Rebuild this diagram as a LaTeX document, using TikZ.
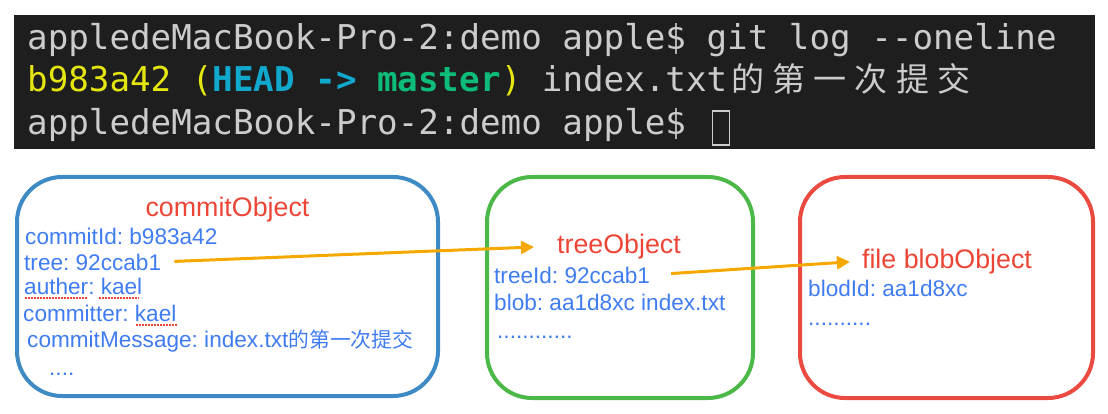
\documentclass[tikz,border=0pt]{standalone}
\usepackage{fontspec}
\setmainfont{Liberation Sans}
\setmonofont{DejaVu Sans Mono}
\newfontfamily\cjk{Noto Sans CJK SC}
\newfontfamily\cjkbody[Scale=0.92]{Noto Sans CJK SC}
\usetikzlibrary{arrows.meta,positioning}
\frenchspacing
\definecolor{termbg}{HTML}{1E1E1E}
\definecolor{termfg}{HTML}{CCCCCC}
\definecolor{termyel}{HTML}{E5E510}
\definecolor{termcyan}{HTML}{11A8CD}
\definecolor{termgreen}{HTML}{0DBC79}
\definecolor{objblue}{HTML}{3E8AC4}
\definecolor{objgreen}{HTML}{4CB847}
\definecolor{objred}{HTML}{EA4A3F}
\definecolor{txtblue}{HTML}{3F7CF2}
\definecolor{txtred}{HTML}{EB4536}
\definecolor{arrorange}{HTML}{F5A900}
\newcommand\cjkcell[1]{\makebox[41.2pt][c]{\cjk\fontsize{33}{40}\selectfont #1}}
\newcommand\termmsg{\cjkcell{的}\cjkcell{第}\cjkcell{一}\cjkcell{次}\cjkcell{提}\cjkcell{交}}

\begin{document}
\begin{tikzpicture}[x=1pt,y=-1pt,
  termline/.style={anchor=base west,inner sep=0,text=termfg,font=\ttfamily\fontsize{34.2}{40}\selectfont},
  objbox/.style={draw,line width=4pt,rounded corners=45pt},
  title/.style={anchor=base,inner sep=0,text=txtred,font=\fontsize{26.8}{32}\selectfont},
  body/.style={anchor=base west,inner sep=0,text=txtblue,font=\fontsize{22.6}{27}\selectfont},
  arr/.style={-{Triangle[length=13pt,width=13pt]},line width=3pt,draw=arrorange},
  squig/.style={draw=txtred,line width=1.5pt,dash pattern=on 1.5pt off 1.5pt}]
\useasboundingbox (0,0) rectangle (1108,414);
% terminal
\node[fill=termbg,minimum width=1081pt,minimum height=134pt,inner sep=0] (term) at (554.5,82) {};
\node[termline] (line1) at (27,50) {appledeMacBook-Pro-2:demo apple\$ git log -{}-oneline};
\node[termline] (line2) at (27,92) {{\color{termyel}b983a42 (}{\bfseries\color{termcyan}HEAD -> }{\bfseries\color{termgreen}master}{\color{termyel})} index.txt\termmsg};
\node[termline] (line3) at (27,135) {appledeMacBook-Pro-2:demo apple\$};
\node[draw=termfg,line width=1.5pt,minimum width=17pt,minimum height=34pt,inner sep=0] (cursor) at (721,128) {};
% objects
\node[objbox,draw=objblue,minimum width=421pt,minimum height=219pt] (commit) at (227.5,286.5) {};
\node[objbox,draw=objgreen,minimum width=266pt,minimum height=221pt] (treebox) at (620,287.5) {};
\node[objbox,draw=objred,minimum width=293pt,minimum height=221pt] (blobbox) at (946.5,287.5) {};
\node[title] (committitle) at (227.5,217) {commitObject};
\node[body] (commitid) at (25,244) {commitId: b983a42};
\node[body] (tree) at (24,270) {tree: 92ccab1};
\node[body] (auther) at (24,294) {auther: kael};
\node[body] (committer) at (23,321) {committer: kael};
\node[body] (message) at (27,347) {commitMessage: index.txt{\cjkbody 的第一次提交}};
\node[body] (commitmore) at (49,375) {....};
\node[title] (treetitle) at (619,253) {treeObject};
\node[body] (treeid) at (494,283) {treeId: 92ccab1};
\node[body] (blob) at (494,310) {blob: aa1d8xc index.txt};
\node[body] (treemore) at (497,338) {............};
\node[title] (blobtitle) at (947,268) {file blobObject};
\node[body] (blobid) at (808,296) {blodId: aa1d8xc};
\node[body] (blobmore) at (808,325) {..........};
% spell-check marks
\draw[squig] (25,298) -- (87,298);
\draw[squig] (99,298) -- (139,298);
\draw[squig] (136,325) -- (177,325);
% links
\draw[arr,shorten <=13pt,shorten >=23pt] (tree.east) -- (treetitle.west);
\draw[arr,shorten <=21pt,shorten >=12pt] (treeid.east) -- (blobtitle.west);
\end{tikzpicture}
\end{document}
